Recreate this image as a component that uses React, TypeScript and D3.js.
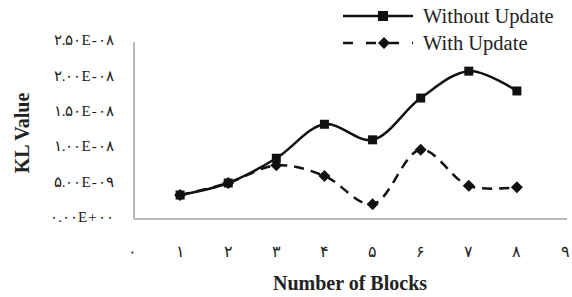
import * as d3 from "d3";

const blocks = [1, 2, 3, 4, 5, 6, 7, 8];
const withoutUpdate = [3.1e-9, 4.8e-9, 8.3e-9, 1.31e-8, 1.09e-8, 1.68e-8, 2.06e-8, 1.78e-8];
const withUpdate = [3.1e-9, 4.8e-9, 7.3e-9, 5.8e-9, 1.8e-9, 9.5e-9, 4.4e-9, 4.2e-9];
const yTicks = [0, 5e-9, 1e-8, 1.5e-8, 2e-8, 2.5e-8];
const xTicks = [0, 1, 2, 3, 4, 5, 6, 7, 8, 9];

const faDigits = "۰۱۲۳۴۵۶۷۸۹";
const toFa = (s: string) => s.replace(/[0-9]/g, (d) => faDigits[+d]);

// excel style 2.50E-08
function sci(v: number) {
  if (v === 0) return "0.00E+00";
  const e = Math.floor(Math.log10(v));
  const m = v / Math.pow(10, e);
  const sign = e < 0 ? "-" : "+";
  return `${m.toFixed(2)}E${sign}${String(Math.abs(e)).padStart(2, "0")}`;
}

const W = 572;
const H = 297;
const serif = "'Times New Roman', 'Liberation Serif', 'DejaVu Serif', serif";

export default function App() {
  const x = d3.scaleLinear().domain([0, 9]).range([132, 565]);
  const y = d3.scaleLinear().domain([0, 2.5e-8]).range([217, 40]);

  const line = d3
    .line<number>()
    .x((_, i) => x(blocks[i]))
    .y((d) => y(d))
    .curve(d3.curveCatmullRom.alpha(0.5));

  const sq = 9;
  const dia = 6;
  const diamond = (cx: number, cy: number) =>
    `M${cx},${cy - dia}L${cx + dia},${cy}L${cx},${cy + dia}L${cx - dia},${cy}Z`;

  return (
    <svg
      width={W}
      height={H}
      style={{ position: "absolute", left: 0, top: 0, background: "#fff" }}
    >
      {/* plot area border */}
      <line x1={134} x2={134} y1={42} y2={219} stroke="#b8b8b8" strokeWidth={2} />
      <line x1={134} x2={567} y1={219} y2={219} stroke="#b8b8b8" strokeWidth={2} />

      {yTicks.map((t) => (
        <text
          key={t}
          x={114}
          y={y(t)}
          dy="0.35em"
          textAnchor="end"
          fontFamily={serif}
          fontSize={15}
          letterSpacing={1.2}
          fill="#222"
        >
          {toFa(sci(t))}
        </text>
      ))}

      {xTicks.map((t) => (
        <text
          key={t}
          x={x(t)}
          y={257}
          textAnchor="middle"
          fontFamily={serif}
          fontSize={16}
          fill="#222"
        >
          {toFa(String(t))}
        </text>
      ))}

      <text
        x={350}
        y={290}
        textAnchor="middle"
        fontFamily={serif}
        fontSize={20}
        fontWeight="bold"
        fill="#222"
      >
        Number of Blocks
      </text>
      <text
        transform={`translate(29,133) rotate(-90)`}
        textAnchor="middle"
        fontFamily={serif}
        fontSize={20}
        fontWeight="bold"
        fill="#222"
      >
        KL Value
      </text>

      <path
        d={line(withUpdate) ?? ""}
        fill="none"
        stroke="#111"
        strokeWidth={2.5}
        strokeDasharray="10,7"
      />
      <path d={line(withoutUpdate) ?? ""} fill="none" stroke="#111" strokeWidth={2.5} />

      {withUpdate.map((v, i) => (
        <path key={"d" + i} d={diamond(x(blocks[i]), y(v))} fill="#111" />
      ))}
      {withoutUpdate.map((v, i) => (
        <rect
          key={"s" + i}
          x={x(blocks[i]) - sq / 2}
          y={y(v) - sq / 2}
          width={sq}
          height={sq}
          fill="#111"
        />
      ))}

      {/* legend */}
      <g>
        <line x1={343} x2={413} y1={16} y2={16} stroke="#111" strokeWidth={2.5} />
        <rect x={378} y={11} width={10} height={10} fill="#111" />
        <text x={423} y={16} dy="0.35em" fontFamily={serif} fontSize={20.5} fill="#222">
          Without Update
        </text>
        <line
          x1={343}
          x2={413}
          y1={43}
          y2={43}
          stroke="#111"
          strokeWidth={2.5}
          strokeDasharray="10,13"
        />
        <path d={diamond(384, 43)} fill="#111" />
        <text x={423} y={43} dy="0.35em" fontFamily={serif} fontSize={20.5} fill="#222">
          With Update
        </text>
      </g>
    </svg>
  );
}
